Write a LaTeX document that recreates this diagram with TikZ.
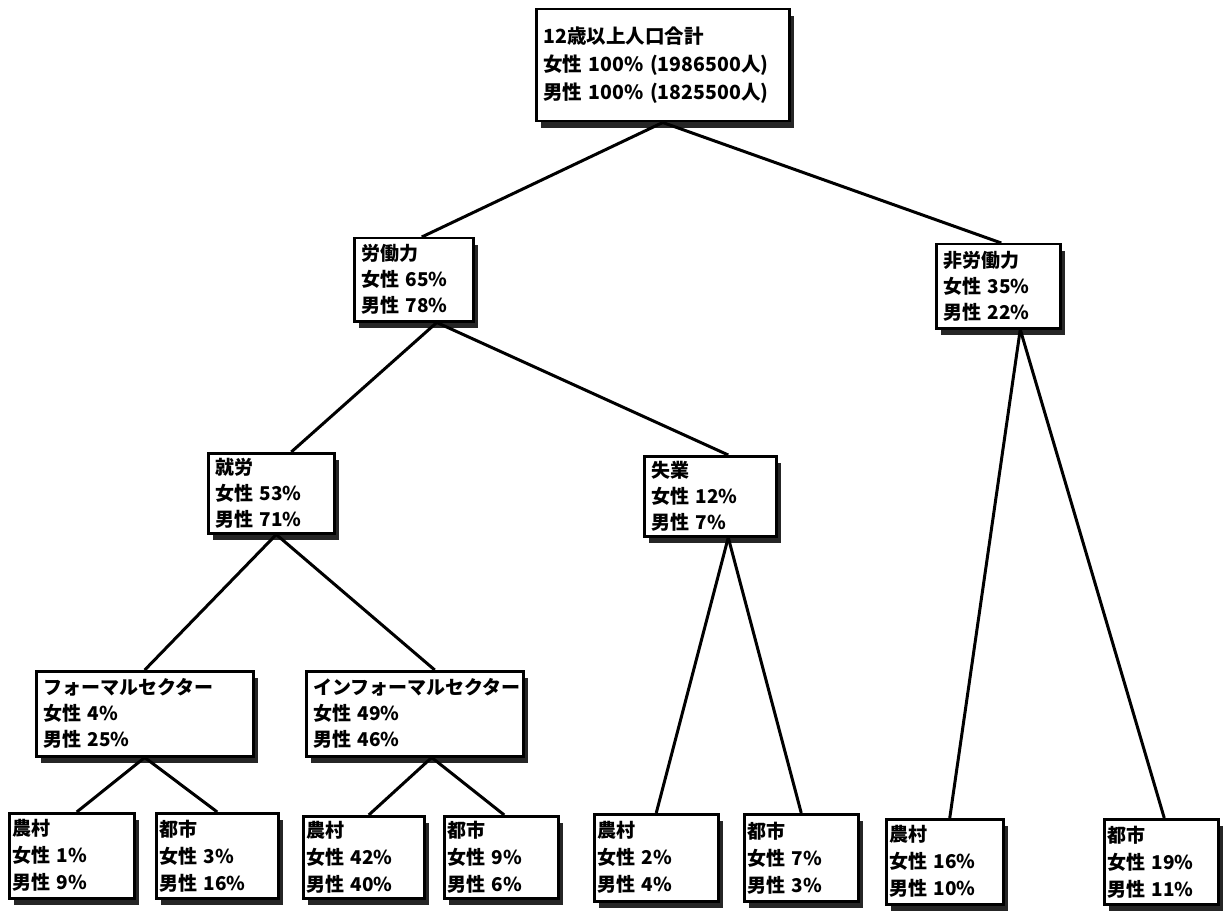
\documentclass[tikz,border=0pt]{standalone}
\usepackage{fontspec}
\setmainfont{Noto Sans CJK JP}
\usetikzlibrary{shadows,calc}
\begin{document}
\begin{tikzpicture}[x=1pt,y=-1pt,
  box/.style={draw, line width=2.5pt, fill=white, anchor=north west, align=left,
    inner xsep=7pt, inner ysep=0pt, font=\bfseries\fontsize{19}{26}\selectfont,
    general shadow={fill=black!85, shadow xshift=5pt, shadow yshift=-7pt}},
  sbox/.style={box, inner xsep=3pt, font=\bfseries\fontsize{19}{27}\selectfont},
  link/.style={line width=3pt}]
\useasboundingbox (0,0) rectangle (1224,912);

\node[box, text width=239pt, minimum height=112pt, font=\bfseries\fontsize{19.5}{28}\selectfont] (top) at (535,8)
  {12歳以上人口合計\\\mbox{女性~100\%~(1986500人)}\\\mbox{男性~100\%~(1825500人)}};
\node[box, text width=105pt, minimum height=83pt] (lab) at (353,237) {労働力\\女性 65\%\\男性 78\%};
\node[box, text width=110pt, minimum height=84pt] (nlab) at (935,243) {非労働力\\女性 35\%\\男性 22\%};
\node[box, text width=112pt, minimum height=80pt] (emp) at (207,452) {就労\\女性 53\%\\男性 71\%};
\node[box, text width=118pt, minimum height=80pt] (unemp) at (643,455) {失業\\女性 12\%\\男性 7\%};
\node[box, text width=203pt, minimum height=85pt] (formal) at (35,670) {フォーマルセクター\\女性 4\%\\男性 25\%};
\node[box, text width=203pt, minimum height=85pt] (informal) at (305,670) {インフォーマルセクター\\女性 49\%\\男性 46\%};

\node[sbox, text width=119pt, minimum height=85pt] (r1) at (8,812) {農村\\女性 1\%\\男性 9\%};
\node[sbox, text width=116pt, minimum height=85pt] (u1) at (155,812) {都市\\女性 3\%\\男性 16\%};
\node[sbox, text width=115pt, minimum height=82pt] (r2) at (302,815) {農村\\女性 42\%\\男性 40\%};
\node[sbox, text width=108pt, minimum height=82pt] (u2) at (443,815) {都市\\女性 9\%\\男性 6\%};
\node[sbox, text width=118pt, minimum height=87pt] (r3) at (593,813) {農村\\女性 2\%\\男性 4\%};
\node[sbox, text width=108pt, minimum height=87pt] (u3) at (743,813) {都市\\女性 7\%\\男性 3\%};
\node[sbox, text width=111pt, minimum height=85pt] (r4) at (885,818) {農村\\女性 16\%\\男性 10\%};
\node[sbox, text width=108pt, minimum height=85pt] (u4) at (1103,818) {都市\\女性 19\%\\男性 11\%};

\draw[link] (top.south) -- ($(lab.north)+(8,0)$);
\draw[link] (top.south) -- ($(nlab.north)+(3,0)$);
\draw[link] ($(lab.south)+(23,0)$) -- ($(emp.north)+(20,0)$);
\draw[link] ($(lab.south)+(23,0)$) -- ($(unemp.north)+(18,0)$);
\draw[link] ($(emp.south)+(5,0)$) -- (formal.north);
\draw[link] ($(emp.south)+(5,0)$) -- ($(informal.north)+(20,0)$);
\draw[link] (formal.south) -- ($(r1.north)+(5,0)$);
\draw[link] (formal.south) -- (u1.north);
\draw[link] ($(informal.south)+(17,0)$) -- ($(r2.north)+(5,0)$);
\draw[link] ($(informal.south)+(17,0)$) -- ($(u2.north)+(3,0)$);
\draw[link] ($(unemp.south)+(18,0)$) -- (r3.north);
\draw[link] ($(unemp.south)+(18,0)$) -- (u3.north);
\draw[link] ($(nlab.south)+(22,0)$) -- ($(r4.north)+(5,0)$);
\draw[link] ($(nlab.south)+(22,0)$) -- ($(u4.north)+(3,0)$);
\end{tikzpicture}
\end{document}
